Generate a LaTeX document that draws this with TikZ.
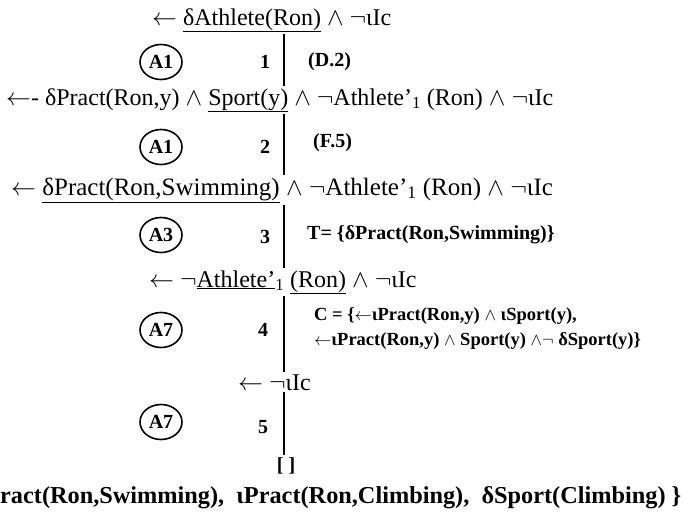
\documentclass[tikz,border=0pt]{standalone}
\usepackage{fontspec}
\setmainfont{Liberation Serif}
\usetikzlibrary{shapes.geometric}

\begin{document}
\begin{tikzpicture}[x=1pt,y=1pt,
		goal/.style={anchor=base west,font=\fontsize{24}{28}\selectfont},
		rule/.style={draw,ellipse,line width=1.6pt,minimum width=42pt,minimum height=35pt,font=\fontsize{20}{24}\selectfont\bfseries},
		stepno/.style={font=\fontsize{20}{24}\selectfont\bfseries},
		note/.style={anchor=west,font=\fontsize{20}{24}\selectfont\bfseries},
		spine/.style={line width=2.6pt,shorten <=2pt,shorten >=2pt}]
		\tikzstyle{every node}+=[inner sep=0pt]
		\useasboundingbox (0,0) rectangle (692,-514);
		\coordinate (sp) at (284,0);
		\node [goal] (g0) at (152,-25) {$\leftarrow$ \underline{δAthlete(Ron)} $\wedge$ $\neg$ιIc};
		\node [goal] (g1) at (6,-105) {$\leftarrow$- δPract(Ron,y) $\wedge$ \underline{Sport(y)} $\wedge$ $\neg$Athlete'\textsubscript{1} (Ron) $\wedge$ $\neg$ιIc};
		\node [goal,font=\fontsize{25}{28}\selectfont] (g2) at (11,-195) {$\leftarrow$ \underline{δPract(Ron,Swimming)} $\wedge$ $\neg$Athlete'\textsubscript{1} (Ron) $\wedge$ $\neg$ιIc};
		\node [goal] (g3) at (149,-287) {$\leftarrow$ $\neg$\underline{Athlete'}\textsubscript{1} \underline{(Ron)} $\wedge$ $\neg$ιIc};
		\node [goal] (g4) at (238,-390) {$\leftarrow$\ $\neg$ιIc};
		\node [goal,anchor=base,font=\fontsize{20}{24}\selectfont\bfseries] (g5) at (286,-471) {[ ]};
		\node [goal,font=\fontsize{24.3}{28}\selectfont\bfseries] (expl) at (0,-503) {ract(Ron,Swimming),\ \ ιPract(Ron,Climbing),\ \ δSport(Climbing) \}};
		\draw [spine] (g0.south -| sp) -- (g1.north -| sp);
		\draw [spine] (g1.south -| sp) -- (g2.north -| sp);
		\draw [spine] (g2.south -| sp) -- (g3.north -| sp);
		\draw [spine] (g3.south -| sp) -- (g4.north -| sp);
		\draw [spine] (g4.south -| sp) -- (g5.north -| sp);
		\node [rule] (r1) at (161,-62) {A1};
		\node [rule] (r2) at (161,-147) {A1};
		\node [rule] (r3) at (161,-235) {A3};
		\node [rule] (r4) at (161,-330) {A7};
		\node [rule] (r5) at (161,-422) {A7};
		\node [stepno] (n1) at (265,-62) {1};
		\node [stepno] (n2) at (265,-147) {2};
		\node [stepno] (n3) at (265,-237) {3};
		\node [stepno] (n4) at (263,-330) {4};
		\node [stepno] (n5) at (263,-427) {5};
		\node [note] (d2) at (308,-62) {(D.2)};
		\node [note] (f5) at (313,-143) {(F.5)};
		\node [note] (tset) at (307,-235) {T= \{δPract(Ron,Swimming)\}};
		\node [note,anchor=north west,align=left,font=\fontsize{18.5}{25}\selectfont\bfseries] (cset) at (314,-307) {C = \{$\leftarrow$ιPract(Ron,y) $\wedge$ ιSport(y),\\$\leftarrow$ιPract(Ron,y) $\wedge$ Sport(y) $\wedge$$\neg$ δSport(y)\}};
\end{tikzpicture}
\end{document}
